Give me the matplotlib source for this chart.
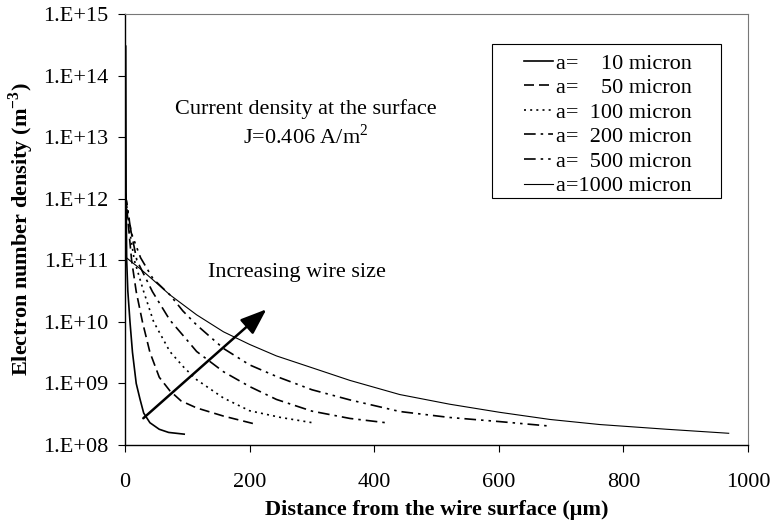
import numpy as np
import matplotlib
matplotlib.use("Agg")
import matplotlib.pyplot as plt
from matplotlib.ticker import FuncFormatter, FixedLocator
from matplotlib.patches import Rectangle

plt.rcParams['font.family'] = ['Liberation Serif', 'DejaVu Serif']
plt.rcParams['mathtext.fontset'] = 'custom'
plt.rcParams['mathtext.rm'] = 'Liberation Serif'
plt.rcParams['mathtext.bf'] = 'Liberation Serif:bold'

# wire radius labels (legend)
labels = ['a=    10 micron', 'a=    50 micron', 'a=  100 micron',
          'a=  200 micron', 'a=  500 micron', 'a=1000 micron']

# distance from wire surface (um) and electron density (m^-3)
x_10 = [1.2, 1.8, 2.7, 4.5, 8, 12, 18, 24, 30, 40, 55, 70, 95]
n_10 = [3e14, 1.2e12, 1e11, 3.2e10, 1e10, 3.2e9, 1e9, 5.6e8, 3.3e8, 2.3e8, 1.8e8, 1.6e8, 1.5e8]

x_50 = [0.5, 6, 10.6, 18, 28, 40, 55, 72, 90, 115, 158, 212]
n_50 = [1.2e12, 3.2e11, 1e11, 3.1e10, 1e10, 3.2e9, 1.26e9, 7.6e8, 5.2e8, 4e8, 2.95e8, 2.15e8]

x_100 = [0.5, 7, 15, 30, 46, 72, 95, 115, 158, 200, 250, 301]
n_100 = [1.2e12, 3.2e11, 1e11, 3.1e10, 1e10, 3.3e9, 1.8e9, 1.15e9, 5.8e8, 3.6e8, 2.8e8, 2.3e8]

x_200 = [0.5, 9, 19, 44, 72, 100, 115, 158, 200, 243, 300, 361, 419]
n_200 = [1.2e12, 3.2e11, 1e11, 3.1e10, 1.07e10, 5e9, 3.3e9, 1.55e9, 8.9e8, 5.5e8, 3.55e8, 2.7e8, 2.3e8]

x_500 = [0.5, 10, 25, 45, 72, 93, 115, 158, 200, 243, 300, 361, 441, 521, 601, 677]
n_500 = [1.2e12, 2.8e11, 1.1e11, 5e10, 2.75e10, 1.5e10, 8.9e9, 3.7e9, 2e9, 1.3e9, 7.9e8, 5.4e8,
         3.5e8, 2.8e8, 2.4e8, 2.05e8]

x_1000 = [0, 10, 25, 45, 72, 115, 158, 200, 243, 300, 361, 441, 521, 601, 682, 762, 870, 969]
n_1000 = [1.15e11, 9.5e10, 7.2e10, 4.8e10, 2.75e10, 1.3e10, 6.9e9, 4.3e9, 2.8e9, 1.8e9, 1.12e9,
          6.6e8, 4.6e8, 3.4e8, 2.6e8, 2.15e8, 1.8e8, 1.55e8]

xs = [x_10, x_50, x_100, x_200, x_500, x_1000]
ns = [n_10, n_50, n_100, n_200, n_500, n_1000]
styles = ['-', (0, (6, 3)), (0, (1.2, 2.5)), (0, (7, 3, 1.5, 3)),
          (0, (7, 3, 1.5, 3, 1.5, 3)), '-']
widths = [1.2, 1.2, 1.2, 1.2, 1.2, 0.8]

fig = plt.figure(figsize=(7.74, 5.21), dpi=100)
ax = fig.add_axes([125 / 774, 76 / 521, 623 / 774, 431 / 521])

for x, n, lab, ls, lw in zip(xs, ns, labels, styles, widths):
    ax.plot(x, n, color='black', linestyle=ls, linewidth=lw, label=lab)

ax.set_yscale('log')
ax.set_xlim(0, 1000)
ax.set_ylim(1e8, 1e15)
ax.yaxis.set_major_locator(FixedLocator([10.0 ** k for k in range(8, 16)]))
ax.yaxis.set_minor_locator(FixedLocator([]))
ax.yaxis.set_major_formatter(FuncFormatter(lambda v, p: "1.E+%02d" % int(round(np.log10(v)))))
ax.set_xticks(np.arange(0, 1001, 200))
ax.tick_params(axis='both', direction='out', length=5, width=0.8, labelsize=16, color='black')
ax.tick_params(axis='y', pad=7)
ax.tick_params(axis='x', pad=15)

for side in ['top', 'right']:
    ax.spines[side].set_color('#777777')
    ax.spines[side].set_linewidth(0.8)
for side in ['left', 'bottom']:
    ax.spines[side].set_color('black')
    ax.spines[side].set_linewidth(1.0)

ax.set_xlabel('Distance from the wire surface (μm)', fontsize=16, fontweight='bold')
ax.set_ylabel(r'Electron number density (m$^{\mathbf{-3}}$)', fontsize=16, fontweight='bold')
ax.xaxis.set_label_coords(0.5, -0.128)
ax.xaxis.label.set_va('top')
ax.yaxis.set_label_coords(-0.143, 0.5)

ax.text(0.2905, 0.767, 'Current density at the surface', transform=ax.transAxes,
        ha='center', va='baseline', fontsize=16)
ax.text(0.2905, 0.698, 'J=0.406 A/m$^2$', transform=ax.transAxes,
        ha='center', va='baseline', fontsize=16)
ax.text(0.1337, 0.3905, 'Increasing wire size', transform=ax.transAxes,
        ha='left', va='baseline', fontsize=16)

ax.annotate('', xy=(227, 1.6e10), xytext=(29.4, 2.72e8),
            arrowprops=dict(arrowstyle='-|>,head_length=0.8,head_width=0.3',
                            mutation_scale=20, lw=1.8, color='black',
                            shrinkA=0, shrinkB=0))

# legend box as drawn in the original
ax.add_patch(Rectangle(((492 - 125) / 623, (445 - 198) / 431), (721 - 492) / 623,
                       (198 - 44) / 431, transform=ax.transAxes, fill=False,
                       edgecolor='black', linewidth=0.8, zorder=5))
ax.legend(loc='upper left', bbox_to_anchor=((524 - 125) / 623, (445 - 53) / 431),
          frameon=False, fontsize=16, borderpad=0, borderaxespad=0,
          handlelength=1.3, handletextpad=0.15, labelspacing=0.18)

fig.savefig('out.png', dpi=100)
